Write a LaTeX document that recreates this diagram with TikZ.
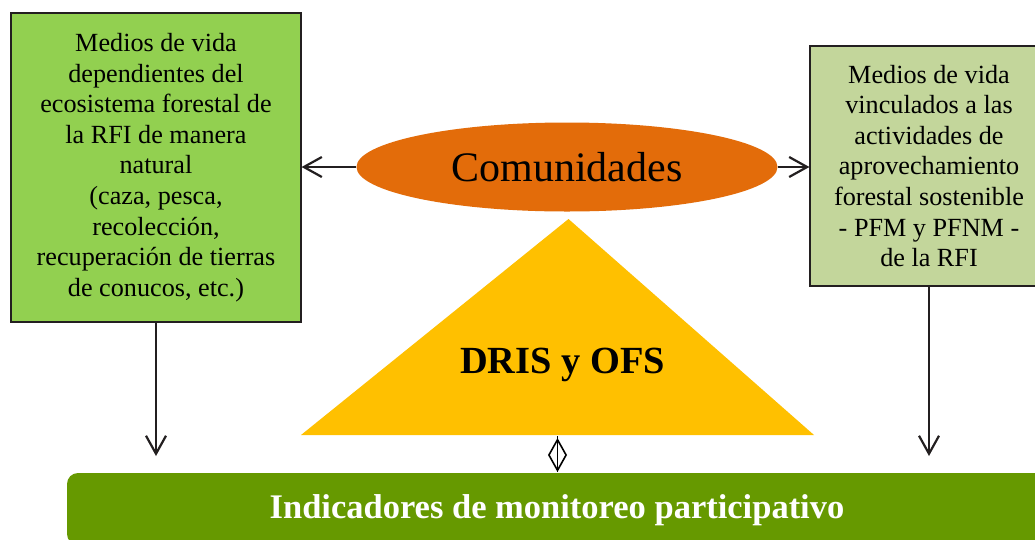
\documentclass[tikz,border=0pt]{standalone}
\usepackage{fontspec}
\setmainfont{Liberation Serif}
\usetikzlibrary{arrows.meta,shapes.geometric}
\definecolor{leftgreen}{HTML}{92D050}
\definecolor{rightgreen}{HTML}{C3D69B}
\definecolor{orangeell}{HTML}{E36C0A}
\definecolor{goldtri}{HTML}{FFC000}
\definecolor{bargreen}{HTML}{669900}
\definecolor{inkline}{HTML}{231F20}
\tikzset{
  textbox/.style={draw=inkline, line width=1.2pt, align=center, inner sep=0pt,
    font=\fontsize{26.2}{30.6}\selectfont, text=black},
  barb/.style={draw=inkline, line width=2.2pt,
    -{Straight Barb[length=18pt,width=20pt,line width=2.2pt]}},
  diamondline/.style={draw=black, line width=1.6pt},
  diamondtip/.style={draw=black, line width=1.6pt,
    -{Diamond[open,length=34pt,width=19pt,line width=1.6pt]}}
}
\begin{document}
\begin{tikzpicture}[x=1pt,y=-1pt]
\useasboundingbox (0,0) rectangle (1035,539);
\clip (0,0) rectangle (1035,539);
\fill[white] (0,0) rectangle (1035,539);

% left box
\node[textbox, fill=leftgreen, minimum width=290pt, minimum height=309pt] (left) at (156,167.5)
  {Medios de vida\\dependientes del\\ecosistema forestal de\\la RFI de manera\\natural\\(caza, pesca,\\recolección,\\recuperación de tierras\\de conucos, etc.)};

% right box
\node[textbox, fill=rightgreen, minimum width=238pt, minimum height=240pt] (right) at (929,166)
  {Medios de vida\\vinculados a las\\actividades de\\aprovechamiento\\forestal sostenible\\- PFM y PFNM -\\de la RFI};

% ellipse
\node[ellipse, fill=orangeell, minimum width=421pt, minimum height=89pt, inner sep=0pt,
  font=\fontsize{42}{48}\selectfont] (comm) at (567,167) {Comunidades};

% triangle
\fill[goldtri] (568.5,219) -- (814,435) -- (301,435) -- cycle;
\node[font=\fontsize{38.4}{44}\selectfont\bfseries, anchor=base] (dris) at (562.5,373) {DRIS y OFS};
\coordinate (tribase) at (557.5,436);

% bottom bar
\fill[bargreen, rounded corners=11pt] (67,473) rectangle (1048,545);
\node[font=\fontsize{34.5}{40}\selectfont\bfseries, text=white, anchor=base] (bar) at (557,518) {Indicadores de monitoreo participativo};
\coordinate (bartop) at (557.5,472);

% connectors
\draw[barb] (comm.west) -- (comm.west -| left.east);
\draw[barb] (comm.east) -- (comm.east -| right.west);
\coordinate (ldown) at (156,456);
\coordinate (rdown) at (929,456);
\draw[barb] (left.south) -- (ldown);
\draw[barb] (right.south) -- (rdown);
\draw[diamondline] (tribase) -- (bartop);
\draw[diamondtip] (tribase) -- (bartop);
\end{tikzpicture}
\end{document}
